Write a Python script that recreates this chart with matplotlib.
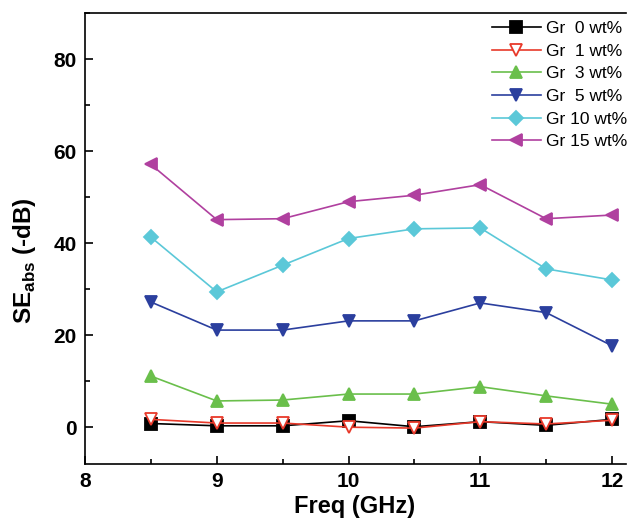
import matplotlib
matplotlib.use("Agg")
import matplotlib.pyplot as plt
from matplotlib.ticker import MultipleLocator

plt.rcParams['font.family'] = ['Liberation Sans', 'DejaVu Sans']
plt.rcParams['mathtext.fontset'] = 'custom'
plt.rcParams['mathtext.rm'] = 'Liberation Sans'
plt.rcParams['mathtext.bf'] = 'Liberation Sans:bold'

freq = [8.5, 9.0, 9.5, 10.0, 10.5, 11.0, 11.5, 12.0]
gr0 = [0.8, 0.3, 0.3, 1.4, 0.1, 1.2, 0.4, 1.7]
gr1 = [1.7, 0.9, 0.9, 0.0, -0.2, 1.2, 0.7, 1.5]
gr3 = [11.1, 5.7, 5.9, 7.2, 7.2, 8.8, 6.8, 5.0]
gr5 = [27.2, 21.1, 21.1, 23.1, 23.1, 27.0, 24.9, 17.7]
gr10 = [41.3, 29.4, 35.2, 41.0, 43.1, 43.3, 34.4, 32.0]
gr15 = [57.1, 45.1, 45.3, 49.0, 50.4, 52.7, 45.3, 46.1]
labels = ["Gr\u20070 wt%", "Gr\u20071 wt%", "Gr\u20073 wt%", "Gr\u20075 wt%", "Gr 10 wt%", "Gr 15 wt%"]

W = 541
fig = plt.figure(figsize=(6.28, 5.23), dpi=100)
ax = fig.add_axes([85/628, 59/523, W/628, 451/523])

series = [
    (gr0, 's', 'black', 'black', 8.5),
    (gr1, 'v', '#e8392a', 'white', 8),
    (gr3, '^', '#6abf4b', '#6abf4b', 8.5),
    (gr5, 'v', '#2b3f9e', '#2b3f9e', 8.5),
    (gr10, 'D', '#5bc8d8', '#5bc8d8', 7),
    (gr15, '<', '#b0409f', '#b0409f', 8.5),
]
handles = []
for (vals, mk, col, fc, ms), lab in zip(series, labels):
    h, = ax.plot(freq, vals, marker=mk, color=col, markerfacecolor=fc,
                 markeredgecolor=col, markersize=ms, lw=1.2, label=lab,
                 markeredgewidth=1.3, clip_on=False)
    handles.append(h)

ax.set_xlim(8, 8 + W / 131.75)
ax.set_ylim(-8, 90)
ax.spines['right'].set_visible(False)
ax.xaxis.set_major_locator(MultipleLocator(1))
ax.xaxis.set_minor_locator(MultipleLocator(0.5))
ax.yaxis.set_major_locator(MultipleLocator(20))
ax.yaxis.set_minor_locator(MultipleLocator(10))
ax.tick_params(which='both', direction='in', top=False, right=False, width=1.2)
ax.tick_params(which='major', length=6, labelsize=15, pad=6)
ax.tick_params(which='minor', length=3.5)
for lbl in ax.get_xticklabels() + ax.get_yticklabels():
    lbl.set_fontweight('bold')
for sp in ax.spines.values():
    sp.set_linewidth(1.2)

ax.set_xlabel("Freq (GHz)", fontsize=17, fontweight='bold')
ax.xaxis.set_label_coords((355 - 85) / W, -0.068)
ax.set_ylabel(r"SE$_{\mathregular{abs}}$ (-dB)", fontsize=17.5, fontweight='bold')
ax.yaxis.set_label_coords((38 - 85) / W, (262 - 59) / 451)

fig.legend(handles=handles, loc='upper left', bbox_to_anchor=(492/628, 1 - 21/523),
           frameon=False, fontsize=12.5, handlelength=2.8, handletextpad=0.3,
           labelspacing=0.43, borderaxespad=0, borderpad=0)

fig.savefig("out.png", dpi=100)
